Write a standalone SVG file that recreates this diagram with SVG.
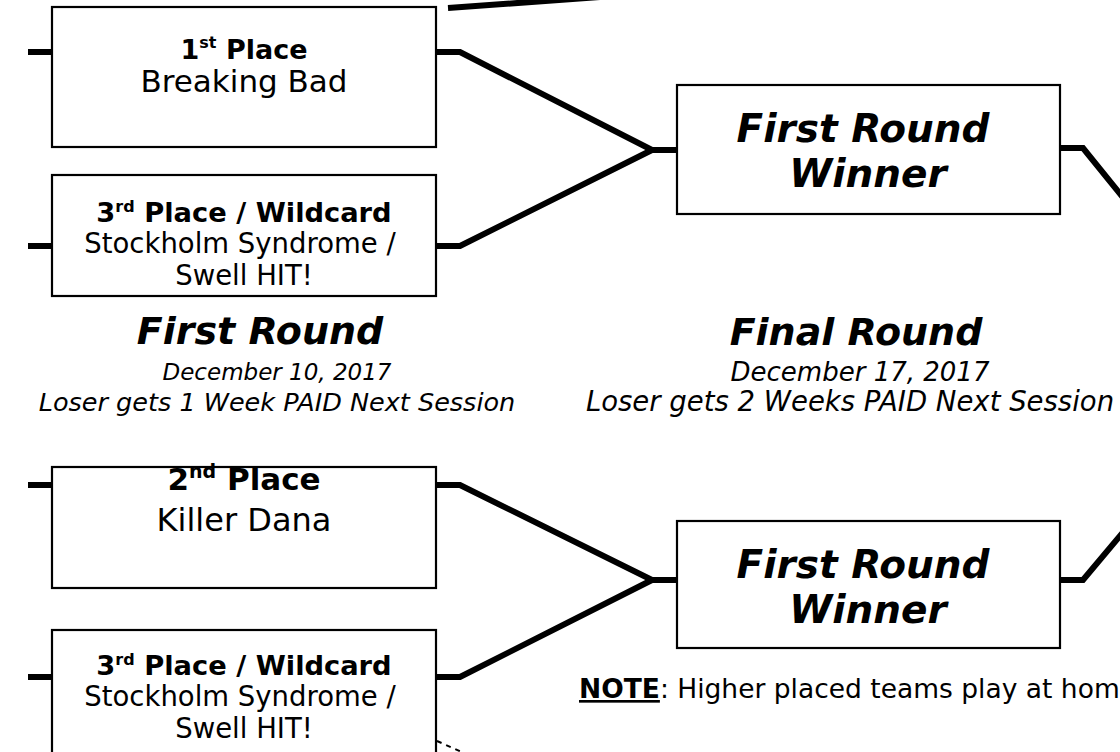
<svg xmlns="http://www.w3.org/2000/svg" width="1120" height="752" viewBox="0 0 1120 752">
<style>
text{font-family:"DejaVu Sans","Verdana",sans-serif;fill:#000;text-anchor:middle}
.box{fill:#fff;stroke:#000;stroke-width:2.2}
.b{font-weight:bold}
.wt{font-weight:bold;font-style:italic;font-size:39px}
.title{font-weight:bold;font-style:italic;font-size:38px}
.sub{font-style:italic}
.c{fill:none;stroke:#000;stroke-width:6;stroke-linejoin:miter}
</style>
<rect width="1120" height="752" fill="#fff"/>
<g id="connectors">
<line class="c" x1="448" y1="8" x2="600" y2="-3"/>
<polyline class="c" points="28,52 52,52"/>
<polyline class="c" points="28,246 52,246"/>
<polyline class="c" points="436,52 460,52 652,150 677,150"/>
<polyline class="c" points="436,246 460,246 652,150"/>
<polyline class="c" points="1060,148 1083,148 1125,200"/>
<polyline class="c" points="28,485 52,485"/>
<polyline class="c" points="28,677 52,677"/>
<polyline class="c" points="436,485 460,485 652,580 677,580"/>
<polyline class="c" points="436,677 460,677 652,580"/>
<polyline class="c" points="1060,580 1083,580 1125,530"/>
<line x1="437" y1="741" x2="464" y2="753" stroke="#000" stroke-width="2" stroke-dasharray="5 5"/>
</g>
<g id="first-place">
<rect class="box" x="52" y="7" width="384" height="140"/>
<text x="244" y="59" class="b" font-size="27">1<tspan font-size="16" dy="-11">st</tspan><tspan dy="11"> Place</tspan></text>
<text x="244" y="92" font-size="31">Breaking Bad</text>
</g>
<g id="third-place-top">
<rect class="box" x="52" y="175" width="384" height="121"/>
<text x="244" y="222" class="b" font-size="27.3">3<tspan font-size="16" dy="-10">rd</tspan><tspan dy="10"> Place / Wildcard</tspan></text>
<text x="240" y="253" font-size="27.5">Stockholm Syndrome /</text>
<text x="244" y="285" font-size="27.5">Swell HIT!</text>
</g>
<g id="second-place">
<rect class="box" x="52" y="467" width="384" height="121"/>
<text x="244" y="490" class="b" font-size="31">2<tspan font-size="19" dy="-12">nd</tspan><tspan dy="12"> Place</tspan></text>
<text x="244" y="531" font-size="32">Killer Dana</text>
</g>
<g id="third-place-bottom">
<rect class="box" x="52" y="630" width="384" height="140"/>
<text x="244" y="675" class="b" font-size="27.3">3<tspan font-size="16" dy="-10">rd</tspan><tspan dy="10"> Place / Wildcard</tspan></text>
<text x="240" y="706" font-size="27.5">Stockholm Syndrome /</text>
<text x="244" y="738" font-size="27.5">Swell HIT!</text>
</g>
<g id="winner-top">
<rect class="box" x="677" y="85" width="383" height="129"/>
<text x="863" y="142" class="wt">First Round</text>
<text x="868" y="187" class="wt">Winner</text>
</g>
<g id="winner-bottom">
<rect class="box" x="677" y="521" width="383" height="127"/>
<text x="863" y="578" class="wt">First Round</text>
<text x="868" y="623" class="wt">Winner</text>
</g>
<g id="label-first-round">
<text x="260" y="344" class="title">First Round</text>
<text x="277" y="380" class="sub" font-size="23">December 10, 2017</text>
<text x="277" y="411" class="sub" font-size="25.5">Loser gets 1 Week PAID Next Session</text>
</g>
<g id="label-final-round">
<text x="856" y="345" class="title" font-size="39">Final Round</text>
<text x="860" y="381" class="sub" font-size="26">December 17, 2017</text>
<text x="850" y="411" class="sub" font-size="27.5">Loser gets 2 Weeks PAID Next Session</text>
</g>
<g id="note">
<text x="579" y="698" font-size="26.5" style="text-anchor:start"><tspan font-weight="bold" text-decoration="underline">NOTE</tspan>: Higher placed teams play at hom</text>
</g>
</svg>
